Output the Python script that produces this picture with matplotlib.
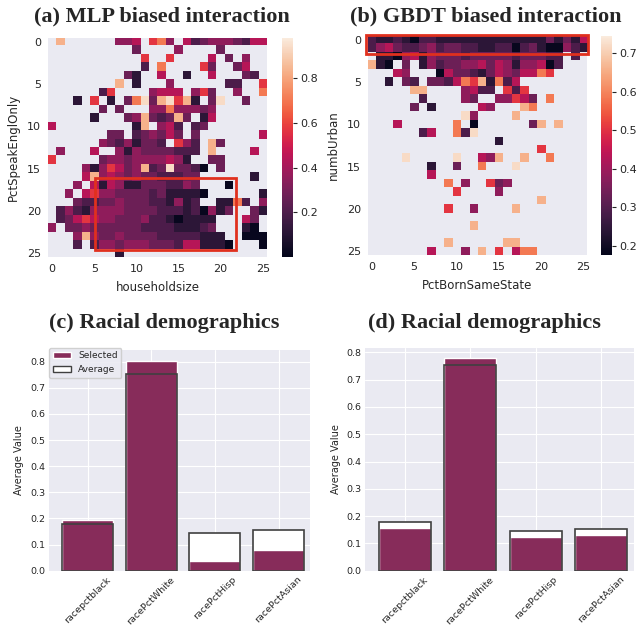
import numpy as np
import matplotlib
matplotlib.use('Agg')
import matplotlib.pyplot as plt
import seaborn as sns
from matplotlib.patches import Rectangle, Patch

# heatmap cells read off the picture as colour levels: '.' = empty cell,
# 0 = black ... 9 = cream, placed on the colorbar with level_pos below
mlp_levels = [
    ".8......445.674.5234443255",
    "..........3....4....3.....",
    "...........6..6....5.3.4..",
    "...........2.7....63..35..",
    ".........31..5..1..5...32.",
    "........8.1...4......22..6",
    "......26....4555.463..4..7",
    "...1.6.1.379389681.39..3..",
    "......3.3...44744434......",
    ".....1...34832383.15......",
    "5.........18.452.23.......",
    ".......33.234353.3.......5",
    "......43241332.642.83.....",
    ".4...5..4143333222.8....5.",
    "6.....34434444541..33.....",
    "....414653482393320.3.....",
    "....58454343322233......1.",
    "...4.5154113332243...0....",
    "..4.564433332311110......1",
    "...322334333221412..1172.4",
    ".242144443333222120413..31",
    ".2356544333422101111...53.",
    "4.334333333222211123...10.",
    "...484334333322222111..000",
    "...2.24434443332551110...0",
    "........1.................",
]
gbdt_levels = [
    "21121022111111111111131315",
    "24532234233221122023100421",
    ".1104514333233333233322.2.",
    "810.3.14233445354144502...",
    "...54...05332135435576....",
    "..1.32.33257681725........",
    ".....88....4522.626.......",
    "......2....43..44653.7....",
    ".....3.1.....54...87......",
    "...........94....8........",
    "...5......7.0......38.8...",
    "......25..729.............",
    "...............1..........",
    "....................6.....",
    "....9.....9..548..8..7....",
    ".......1..3..7...9........",
    ".......5..................",
    ".........7.4..634.........",
    "..........6....4..........",
    "....................8.....",
    ".........6..4....8........",
    "..........................",
    "............8.............",
    "..........................",
    ".........8......88........",
    ".......5...4.8.6.577......",
]
# where each colour level sits along the colorbar (0 = bottom, 1 = top)
level_pos = [0.02, 0.12, 0.2, 0.28, 0.36, 0.45, 0.58, 0.72, 0.85, 0.96]
mlp_range = (0.0, 0.98)
gbdt_range = (0.175, 0.745)

features = ['racepctblack', 'racePctWhite', 'racePctHisp', 'racePctAsian']
c_selected = [0.193, 0.804, 0.037, 0.080]
d_selected = [0.155, 0.778, 0.123, 0.132]
average = [0.180, 0.753, 0.145, 0.154]

sns.set_style('darkgrid')
plt.rcParams['font.family'] = ['DejaVu Sans']

W, H = 641, 632
fig = plt.figure(figsize=(W / 100, H / 100), dpi=100)
rocket = sns.color_palette('rocket', as_cmap=True)
SEL = '#872c5a'
EDGE = '#404040'
RED = '#e0301e'


def px_axes(x0, y0, x1, y1):
    return fig.add_axes([x0 / W, 1 - y1 / H, (x1 - x0) / W, (y1 - y0) / H])


def to_grid(rows, lo, hi):
    grid = np.full((len(rows), len(rows[0])), np.nan)
    for i, r in enumerate(rows):
        for j, ch in enumerate(r):
            if ch != '.':
                grid[i, j] = lo + level_pos[int(ch)] * (hi - lo)
    return grid


def heatmap(box, cbox, rows, rng, xlabel, ylabel, cticks, rect):
    ax = px_axes(*box)
    grid = to_grid(rows, *rng)
    im = ax.imshow(grid, cmap=rocket, vmin=rng[0], vmax=rng[1],
                   interpolation='nearest', aspect='auto')
    ax.grid(False)
    ax.set_xticks(range(0, 26, 5))
    ax.set_yticks(range(0, 26, 5))
    ax.tick_params(labelsize=8, length=0, pad=5)
    ax.set_xlabel(xlabel, fontsize=8.5, labelpad=5)
    ax.set_ylabel(ylabel, fontsize=8.5, labelpad=5)
    for s in ax.spines.values():
        s.set_visible(False)
    ax.add_patch(Rectangle((rect[0], rect[1]), rect[2] - rect[0], rect[3] - rect[1],
                           fill=False, edgecolor=RED, lw=2, clip_on=False, zorder=5))
    cax = px_axes(*cbox)
    cb = fig.colorbar(im, cax=cax)
    cb.outline.set_visible(False)
    cb.set_ticks(cticks)
    cax.tick_params(labelsize=8, length=3, width=0.8, pad=2)
    return ax


heatmap((48, 38, 267, 257), (282, 38, 293, 257), mlp_levels, mlp_range,
        'householdsize', 'PctSpeakEnglOnly', [0.2, 0.4, 0.6, 0.8],
        (5.1, 16.1, 21.8, 24.7))
heatmap((367.7, 35.8, 587.3, 255.3), (601, 35.8, 612, 255.3), gbdt_levels, gbdt_range,
        'PctBornSameState', 'numbUrban', [0.2, 0.3, 0.4, 0.5, 0.6, 0.7],
        (-0.7, -0.6, 25.6, 1.7))


def bars(box, selected, ylim):
    ax = px_axes(*box)
    x = np.arange(len(features))
    ax.bar(x, average, width=0.8, color='white', edgecolor='none', zorder=2)
    ax.bar(x, selected, width=0.8, color=SEL, zorder=3)
    ax.bar(x, average, width=0.8, fill=False, edgecolor=EDGE, lw=1.2, zorder=4)
    ax.set_axisbelow(True)
    ax.set_xlim(-0.6, 3.5)
    ax.set_ylim(*ylim)
    ax.set_yticks(np.arange(0, 0.81, 0.1))
    ax.set_xticks(x)
    ax.set_xticklabels(features, rotation=45)
    ax.tick_params(labelsize=6.8, length=0, pad=3)
    ax.set_ylabel('Average Value', fontsize=7)
    for s in ax.spines.values():
        s.set_visible(False)
    return ax


axc = bars((49.3, 350, 310.4, 570.7), c_selected, (0, 0.845))
bars((365.4, 348.3, 634, 570.7), d_selected, (0, 0.815))
axc.legend(handles=[Patch(facecolor=SEL, label='Selected'),
                    Patch(facecolor='white', edgecolor=EDGE, label='Average')],
           loc='upper left', bbox_to_anchor=(0, 1.01), borderaxespad=0,
           fontsize=6.5, handlelength=2, frameon=True, framealpha=0.9)

title_font = dict(family=['Liberation Serif', 'DejaVu Serif'], fontweight='bold',
                  fontsize=16, ha='center', va='center')
fig.text(162 / W, 1 - 16 / H, '(a) MLP biased interaction', **title_font)
fig.text(486 / W, 1 - 16 / H, '(b) GBDT biased interaction', **title_font)
fig.text(164 / W, 1 - 323 / H, '(c) Racial demographics', **title_font)
fig.text(484 / W, 1 - 323 / H, '(d) Racial demographics', **title_font)

fig.savefig('out.png', dpi=100)
